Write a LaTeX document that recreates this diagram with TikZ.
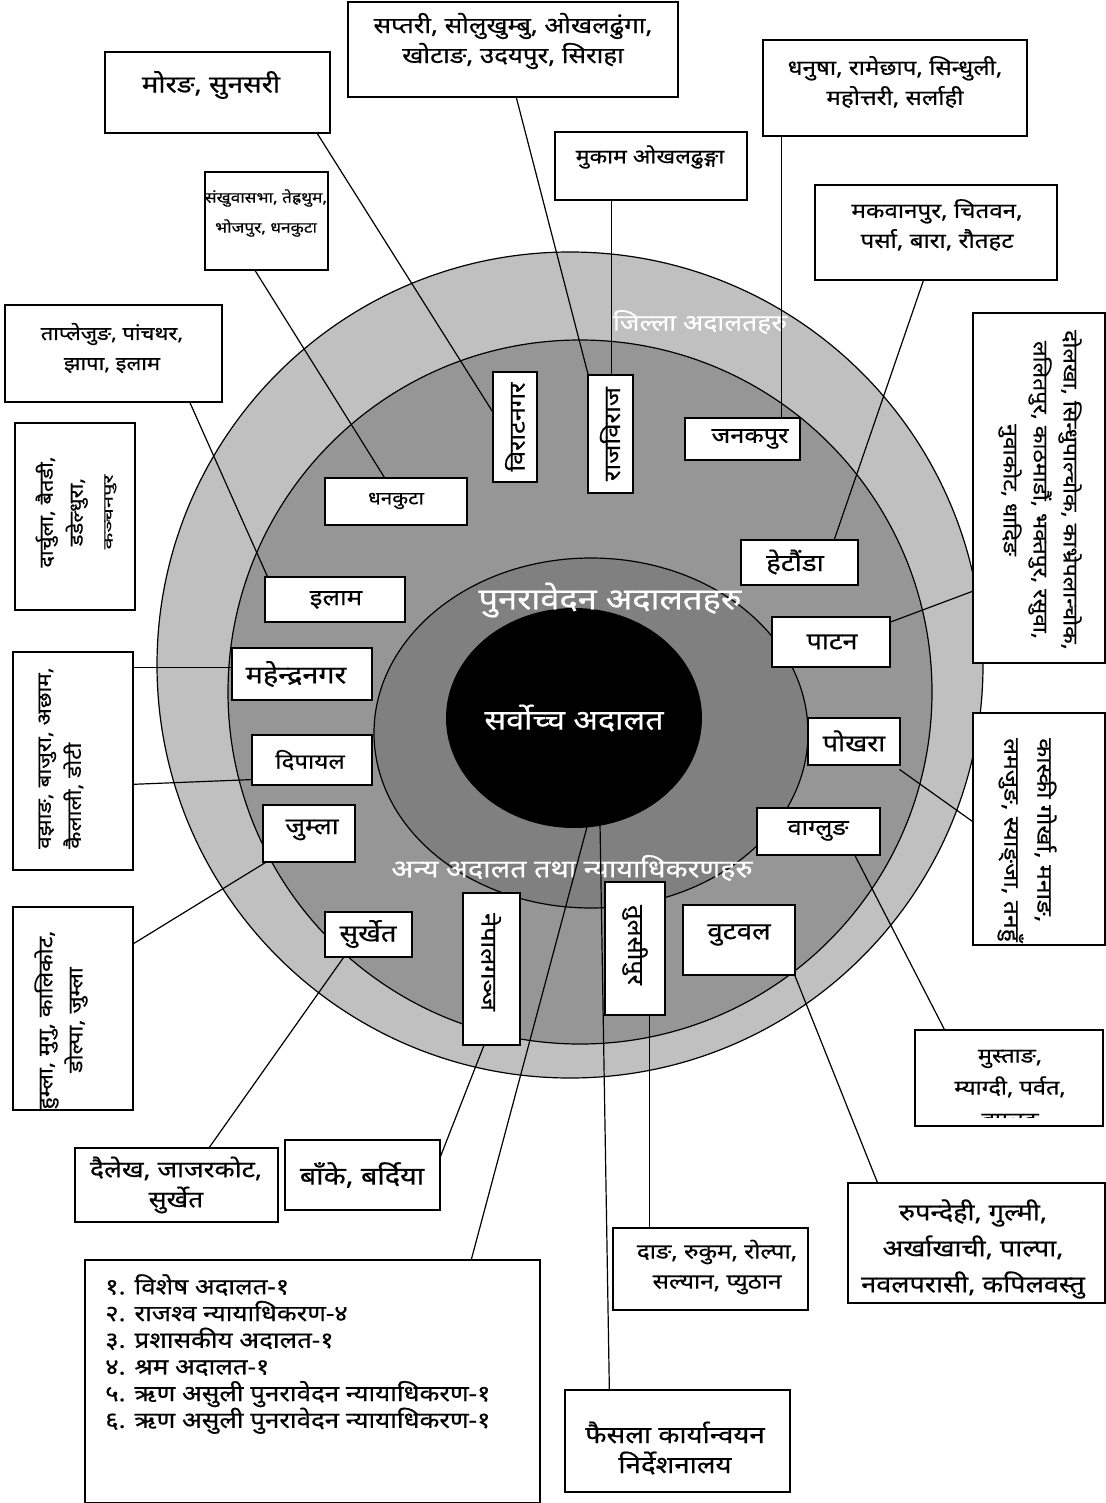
\documentclass[tikz,border=0pt]{standalone}
\usepackage{fontspec}
\newfontfamily\dev[Script=Devanagari, FakeStretch=1.15, FakeBold=0.5]{Noto Sans}
\usetikzlibrary{fit,calc,shapes.geometric}
\pgfdeclarelayer{bg}\pgfdeclarelayer{ln}\pgfsetlayers{bg,ln,main}
\definecolor{ringA}{HTML}{C0C0C0}
\definecolor{ringB}{HTML}{969696}
\definecolor{ringC}{HTML}{808080}
\begin{document}
\begin{tikzpicture}[x=1pt,y=-1pt,
  box/.style={draw, line width=1.3pt, fill=white, inner sep=0pt},
  txt/.style={align=center, inner sep=0pt},
  ts/.style={txt, font=\dev\fontsize{#1}{30}\selectfont},
  lbl/.style={inner sep=0pt, text=white, font=\dev\fontsize{#1}{30}\selectfont},
  conn/.style={line width=1.2pt}]
\useasboundingbox (0,0) rectangle (1105,1503);
\begin{pgfonlayer}{bg}
\fill[white] (0,0) rectangle (1105,1503);
\filldraw[fill=ringA, draw=black, line width=1.2pt] (570,665) circle [radius=413];
\filldraw[fill=ringB, draw=black, line width=1.2pt] (580,692) circle [radius=352];
\filldraw[fill=ringC, draw=black, line width=1.2pt] (591,733) ellipse [x radius=217, y radius=175];
\node[ellipse, fill=black, minimum width=256pt, minimum height=220pt, inner sep=0pt, font=\dev\fontsize{28}{30}\selectfont, text=white] (supreme) at (574,718) {सर्वोच्च अदालत};
\node[lbl=23] (lblA) at (700,322) {जिल्ला अदालतहरु};
\node[lbl=30] (lblB) at (610,600) {पुनरावेदन अदालतहरु};
\node[lbl=25] (lblC) at (572,868) {अन्य अदालत तथा न्यायाधिकरणहरु};
\end{pgfonlayer}

% outer boxes
\node[box, fit={(105,52)(330,133)}] (moran) {};
\node[ts=24] (moran-t) at (211,85) {मोरङ, सुनसरी};
\node[box, fit={(348,2)(678,97)}] (saptari) {};
\node[ts=22.5] (saptari-t) at (513,41) {सप्तरी, सोलुखुम्बु, ओखलढुंगा,\\ खोटाङ, उदयपुर, सिराहा};
\node[box, fit={(555,132)(747,200)}] (mukam) {};
\node[ts=20] (mukam-t) at (650,157) {मुकाम ओखलढुङ्गा};
\node[box, fit={(763,40)(1027,136)}] (dhanusha) {};
\node[ts=21] (dhanusha-t) at (895,82) {धनुषा, रामेछाप, सिन्धुली,\\ महोत्तरी, सर्लाही};
\node[box, fit={(815,185)(1057,280)}] (makwan) {};
\node[ts=21] (makwan-t) at (937,225) {मकवानपुर, चितवन,\\ पर्सा, बारा, रौतहट};
\node[box, fit={(205,172)(328,270)}] (sankhu) {};
\node[ts=15] (sankhu-t) at (266,213) {संखुवासभा, तेह्रथुम,\\ भोजपुर, धनकुटा};
\node[box, fit={(5,305)(222,402)}] (taple) {};
\node[ts=19] (taple-t) at (112,348) {ताप्लेजुङ, पांचथर,\\ झापा, इलाम};
\node[box, fit={(15,423)(135,610)}] (darchula) {};
\begin{scope}
\clip (15,423) rectangle (135,610);
\node[ts=19, rotate=90] (darchula-t) at (76,512) {दार्चुला, बैतडी,\\ डडेल्धुरा,\\ \scalebox{1}[0.7]{कञ्चनपुर}};
\end{scope}
\node[box, fit={(13,652)(133,870)}] (bajhang) {};
\node[ts=19.5, rotate=90, align=left] (bajhang-t) at (61,758) {वझाङ, बाजुरा, अछाम,\\ कैलाली, डोटी};
\node[box, fit={(13,907)(133,1110)}] (humla) {};
\begin{scope}
\clip (13,907) rectangle (133,1110);
\node[ts=20, rotate=90] (humla-t) at (61,1020) {हुम्ला, मुगु, कालिकोट,\\ डोल्पा, जुम्ला};
\end{scope}
\node[box, fit={(75,1148)(278,1222)}] (dailekh) {};
\node[ts=23] (dailekh-t) at (176,1185) {दैलेख, जाजरकोट,\\ सुर्खेत};
\node[box, fit={(285,1140)(440,1210)}] (banke) {};
\node[ts=25] (banke-t) at (362,1175) {बाँके, बर्दिया};
\node[box, fit={(85,1260)(540,1503)}] (list) {};
\node[txt, align=left, anchor=north west, font=\dev\fontsize{22.5}{26.7}\selectfont] (list-t) at (105,1274) {१. विशेष अदालत-१\\ २. राजश्व न्यायाधिकरण-४\\ ३. प्रशासकीय अदालत-१\\ ४. श्रम अदालत-१\\ ५. ऋण असुली पुनरावेदन न्यायाधिकरण-१\\ ६. ऋण असुली पुनरावेदन न्यायाधिकरण-१};
\node[box, fit={(565,1390)(790,1492)}] (faisala) {};
\node[ts=24] (faisala-t) at (675,1448) {फैसला कार्यान्वयन\\ निर्देशनालय};
\node[box, fit={(613,1228)(808,1310)}] (dang) {};
\node[ts=21] (dang-t) at (717,1267) {दाङ, रुकुम, रोल्पा,\\ सल्यान, प्युठान};
\node[box, fit={(848,1183)(1105,1303)}] (rupan) {};
\node[txt, font=\dev\fontsize{23.5}{36}\selectfont] (rupan-t) at (973,1249) {रुपन्देही, गुल्मी,\\ अर्खाखाची, पाल्पा,\\ नवलपरासी, कपिलवस्तु};
\node[box, fit={(915,1030)(1103,1126)}] (mustang) {};
\begin{scope}
\clip (915,1030) rectangle (1103,1117);
\node[txt, font=\dev\fontsize{20.5}{32}\selectfont] (mustang-t) at (1010,1091) {मुस्ताङ,\\ म्याग्दी, पर्वत,\\ बाग्लुङ};
\end{scope}
\node[box, fit={(973,713)(1105,945)}] (kaski) {};
\node[txt, rotate=-90, align=left, font=\dev\fontsize{21.5}{33}\selectfont] (kaski-t) at (1027,840) {कास्की गोर्खा, मनाङ,\\ लमजुङ, स्याङ्जा, तनहुँ};
\node[box, fit={(973,313)(1105,663)}] (dolakha) {};
\node[ts=20, rotate=-90] (dolakha-t) at (1040,490) {दोलखा, सिन्धुपाल्चोक, काभ्रेपलान्चोक,\\ ललितपुर, काठमाडौं, भक्तपुर, रसुवा,\\ नुवाकोट, धादिङ};

% inner boxes
\node[box, fit={(493,372)(537,482)}] (birat) {};
\node[ts=22, rotate=90] (birat-t) at (515,427) {विराटनगर};
\node[box, fit={(588,375)(633,493)}] (rajbiraj) {};
\node[ts=22.5, rotate=90] (rajbiraj-t) at (610,434) {राजविराज};
\node[box, fit={(685,418)(800,460)}] (janak) {};
\node[ts=22] (janak-t) at (750,439) {जनकपुर};
\node[box, fit={(325,478)(467,525)}] (dhankuta) {};
\node[ts=18] (dhankuta-t) at (396,501) {धनकुटा};
\node[box, fit={(741,540)(858,585)}] (hetauda) {};
\node[ts=24] (hetauda-t) at (795,562) {हेटौंडा};
\node[box, fit={(265,577)(405,622)}] (ilam) {};
\node[ts=22.5] (ilam-t) at (336,600) {इलाम};
\node[box, fit={(772,617)(890,667)}] (patan) {};
\node[ts=23.5] (patan-t) at (832,642) {पाटन};
\node[box, fit={(232,648)(372,700)}] (mahendra) {};
\node[ts=25] (mahendra-t) at (296,674) {महेन्द्रनगर};
\node[box, fit={(252,735)(372,785)}] (dipayal) {};
\node[ts=21] (dipayal-t) at (310,760) {दिपायल};
\node[box, fit={(808,718)(900,765)}] (pokhara) {};
\node[ts=23.5] (pokhara-t) at (854,741) {पोखरा};
\node[box, fit={(263,805)(355,862)}] (jumla) {};
\node[ts=23] (jumla-t) at (312,830) {जुम्ला};
\node[box, fit={(757,808)(880,855)}] (baglung) {};
\node[ts=22] (baglung-t) at (818,831) {वाग्लुङ};
\node[box, fit={(325,912)(412,957)}] (surkhet) {};
\node[ts=24] (surkhet-t) at (368,934) {सुर्खेत};
\node[box, fit={(463,893)(520,1045)}] (nepalganj) {};
\node[ts=22, rotate=-90] (nepalganj-t) at (491,962) {नेपालगञ्ज};
\node[box, fit={(605,882)(665,1015)}] (tulsi) {};
\node[ts=22, rotate=-90] (tulsi-t) at (635,945) {तुलसीपुर};
\node[box, fit={(683,905)(795,975)}] (butwal) {};
\node[ts=24] (butwal-t) at (739,935) {वुटवल};

\begin{pgfonlayer}{ln}
\draw[conn] ($(moran.south west)+(213,0)$) -- ($(birat.north west)+(0,40)$);
\draw[conn] ($(saptari.south west)+(169,0)$) -- ($(rajbiraj.north west)+(2,5)$);
\draw[conn] ($(mukam.south west)+(57,0)$) -- ($(rajbiraj.north west)+(24,0)$);
\draw[conn] ($(dhanusha.south west)+(19,0)$) -- ($(janak.north west)+(97,0)$);
\draw[conn] ($(makwan.south west)+(109,0)$) -- ($(hetauda.north west)+(94,0)$);
\draw[conn] ($(dolakha.north west)+(0,279)$) -- ($(patan.north west)+(113,8)$);
\draw[conn] ($(kaski.north west)+(0,109)$) -- ($(pokhara.north west)+(92,52)$);
\draw[conn] ($(mustang.north west)+(30,0)$) -- ($(baglung.north west)+(98,47)$);
\draw[conn] ($(rupan.north west)+(30,0)$) -- ($(butwal.north west)+(112,70)$);
\draw[conn] ($(dang.north west)+(37,0)$) -- ($(tulsi.north west)+(45,133)$);
\draw[conn] ($(faisala.north west)+(45,0)$) -- ($(supreme.south)+(26,-5)$);
\draw[conn] ($(list.north west)+(387,0)$) -- ($(supreme.south)+(14,-5)$);
\draw[conn] ($(banke.north west)+(155,20)$) -- ($(nepalganj.north west)+(22,152)$);
\draw[conn] ($(dailekh.north west)+(135,0)$) -- ($(surkhet.north west)+(20,45)$);
\draw[conn] ($(humla.north west)+(120,38)$) -- ($(jumla.north west)+(5,57)$);
\draw[conn] ($(bajhang.north west)+(120,16)$) -- ($(mahendra.north west)+(0,20)$);
\draw[conn] ($(bajhang.north west)+(120,133)$) -- ($(dipayal.north west)+(6,45)$);
\draw[conn] ($(taple.north west)+(185,97)$) -- ($(ilam.north west)+(3,0)$);
\draw[conn] ($(sankhu.north west)+(50,98)$) -- ($(dhankuta.north west)+(60,0)$);
\end{pgfonlayer}
\end{tikzpicture}
\end{document}
